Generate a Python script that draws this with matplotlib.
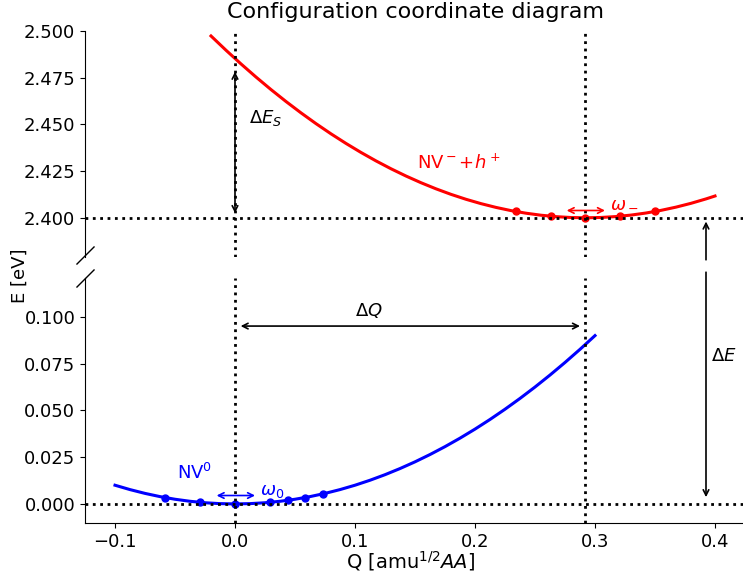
import matplotlib
matplotlib.use("Agg")
import matplotlib.pyplot as plt

# ---- data ----
q_curve0 = [-0.1, -0.0875, -0.075, -0.0625, -0.05, -0.0375, -0.025, -0.0125, 0.0,
            0.0125, 0.025, 0.0375, 0.05, 0.0625, 0.075, 0.0875, 0.1, 0.1125, 0.125,
            0.1375, 0.15, 0.1625, 0.175, 0.1875, 0.2, 0.2125, 0.225, 0.2375, 0.25,
            0.2625, 0.275, 0.2875, 0.3]
e_curve0 = [0.01000, 0.00766, 0.00563, 0.00391, 0.00250, 0.00141, 0.00063, 0.00016, 0.0,
            0.00016, 0.00063, 0.00141, 0.00250, 0.00391, 0.00563, 0.00766, 0.01000,
            0.01266, 0.01563, 0.01891, 0.02250, 0.02641, 0.03063, 0.03516, 0.04000,
            0.04516, 0.05063, 0.05641, 0.06250, 0.06891, 0.07563, 0.08266, 0.09000]

q_curveM = [-0.02, -0.0075, 0.005, 0.0175, 0.03, 0.0425, 0.055, 0.0675, 0.08, 0.0925,
            0.105, 0.1175, 0.13, 0.1425, 0.155, 0.1675, 0.18, 0.1925, 0.205, 0.2175,
            0.23, 0.2425, 0.255, 0.2675, 0.28, 0.2925, 0.305, 0.3175, 0.33, 0.3425,
            0.355, 0.3675, 0.38, 0.3925, 0.4]
e_curveM = [2.49734, 2.48970, 2.48237, 2.47535, 2.46864, 2.46225, 2.45617, 2.45040,
            2.44494, 2.43980, 2.43497, 2.43045, 2.42624, 2.42235, 2.41877, 2.41550,
            2.41254, 2.40990, 2.40757, 2.40555, 2.40384, 2.40245, 2.40137, 2.40060,
            2.40014, 2.40000, 2.40017, 2.40065, 2.40144, 2.40255, 2.40397, 2.40570,
            2.40774, 2.41010, 2.41166]

q_pts0 = [-0.058, -0.029, 0.0, 0.029, 0.044, 0.058, 0.073]
e_pts0 = [0.0034, 0.0008, 0.0, 0.0008, 0.0019, 0.0034, 0.0053]

q_ptsM = [0.234, 0.263, 0.292, 0.321, 0.350]
e_ptsM = [2.4034, 2.4008, 2.4000, 2.4008, 2.4034]

q_min0, e_min0 = 0.0, 0.0
q_minM, e_minM = 0.292, 2.4

top_yticks = [2.400, 2.425, 2.450, 2.475, 2.500]
bot_yticks = [0.000, 0.025, 0.050, 0.075, 0.100]
xticks = [-0.1, 0.0, 0.1, 0.2, 0.3, 0.4]

W, H = 743, 578
fig = plt.figure(figsize=(W / 100, H / 100), dpi=100)
fs = 13

L = 85 / W
AW = 660 / W
ax1 = fig.add_axes([L, 1 - 257 / H, AW, (257 - 31) / H])
ax2 = fig.add_axes([L, 1 - 523 / H, AW, (523 - 278) / H], sharex=ax1)

for ax in (ax1, ax2):
    ax.spines['top'].set_visible(False)
    ax.spines['right'].set_visible(False)
    ax.tick_params(labelsize=fs)
ax1.spines['bottom'].set_visible(False)
ax1.tick_params(axis='x', bottom=False, labelbottom=False)

ax1.set_xlim(-0.125, 0.425)
ax1.set_ylim(2.379, 2.5)
ax2.set_ylim(-0.0102, 0.1208)
ax1.set_yticks(top_yticks)
ax1.set_yticklabels([f"{v:.3f}" for v in top_yticks])
ax2.set_yticks(bot_yticks)
ax2.set_yticklabels([f"{v:.3f}" for v in bot_yticks])
ax2.set_xticks(xticks)
ax2.set_xticklabels([f"{v:.1f}".replace('-', '\u2212') for v in xticks])

# curves
ax2.plot(q_curve0, e_curve0, color='b', lw=2.2)
ax2.plot(q_pts0, e_pts0, 'o', color='b', ms=5)
ax1.plot(q_curveM, e_curveM, color='r', lw=2.2)
ax1.plot(q_ptsM, e_ptsM, 'o', color='r', ms=5)

# guide lines
dot = dict(color='k', ls=':', lw=2)
ax1.axhline(e_minM, **dot)
ax2.axhline(e_min0, **dot)
for ax in (ax1, ax2):
    ax.axvline(q_min0, **dot)
    ax.axvline(q_minM, **dot)

# arrows
arr = dict(arrowstyle='<->', color='k', lw=1.2, shrinkA=0, shrinkB=0)
ax1.annotate('', xy=(0.0, 2.4782), xytext=(0.0, 2.4025), arrowprops=arr)
ax1.text(0.0119, 2.4533, r'$\Delta E_S$', fontsize=fs, ha='left', va='center')

ax2.annotate('', xy=(0.2875, 0.0951), xytext=(0.0047, 0.0951), arrowprops=arr)
ax2.text(0.1, 0.1036, r'$\Delta Q$', fontsize=fs, ha='left', va='center')

one = dict(arrowstyle='->', color='k', lw=1.2, shrinkA=0, shrinkB=0)
ax1.annotate('', xy=(0.3925, 2.398), xytext=(0.3925, 2.3775), arrowprops=one,
             annotation_clip=False)
ax2.annotate('', xy=(0.3925, 0.0036), xytext=(0.3925, 0.1239), arrowprops=one,
             annotation_clip=False)
ax2.text(0.3967, 0.079, r'$\Delta E$', fontsize=fs, ha='left', va='center')

ax2.annotate('', xy=(0.0167, 0.0045), xytext=(-0.0153, 0.0045),
             arrowprops=dict(arrowstyle='<->', color='b', lw=1.2, shrinkA=0, shrinkB=0))
ax2.text(0.0208, 0.0071, r'$\omega_0$', fontsize=fs, color='b', ha='left', va='center')
ax2.text(-0.0486, 0.0168, r'NV$^0$', fontsize=fs, color='b', ha='left', va='center')

ax1.annotate('', xy=(0.3083, 2.4039), xytext=(0.2764, 2.4039),
             arrowprops=dict(arrowstyle='<->', color='r', lw=1.2, shrinkA=0, shrinkB=0))
ax1.text(0.3125, 2.4082, r'$\omega_-$', fontsize=fs, color='r', ha='left', va='center')
ax1.text(0.1514, 2.4292, r'NV$^-$+$h^+$', fontsize=fs, color='r', ha='left', va='center')

# break marks
bk = dict(marker=[(-1, -1), (1, 1)], markersize=13, linestyle='none',
          color='k', mec='k', mew=1, clip_on=False)
ax1.plot([0], [0.01], transform=ax1.transAxes, **bk)
ax2.plot([0], [1.0], transform=ax2.transAxes, **bk)

fig.text(416 / W, 1 - 12 / H, 'Configuration coordinate diagram', fontsize=16,
         ha='center', va='center')
fig.text(411 / W, 1 - 561 / H, r'Q [amu$^{1/2}$$AA$]', fontsize=14,
         ha='center', va='center')
fig.text(20 / W, 1 - 276 / H, 'E [eV]', fontsize=fs, rotation=90,
         ha='center', va='center')

fig.savefig('out.png', dpi=100)
